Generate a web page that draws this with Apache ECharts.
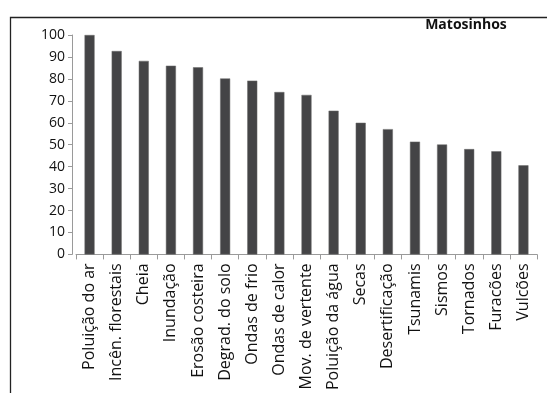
<!DOCTYPE html>
<html>
<head>
<meta charset="utf-8">
<script src="https://cdn.jsdelivr.net/npm/echarts@6/dist/echarts.min.js"></script>
<style>
  html, body { margin: 0; padding: 0; background: #fff; }
  #chart { width: 547px; height: 393px; }
</style>
</head>
<body>
<div id="chart"></div>
<script>
// Hazard categories, ordered from highest to lowest score
const categories = [
  'Poluição do ar', 'Incên. florestais', 'Cheia', 'Inundação', 'Erosão costeira',
  'Degrad. do solo', 'Ondas de frio', 'Ondas de calor', 'Mov. de vertente',
  'Poluição da água', 'Secas', 'Desertificação', 'Tsunamis', 'Sismos',
  'Tornados', 'Furacões', 'Vulcões'
];
// Score for each hazard
const scores = [100, 92.7, 88.2, 86, 85.3, 80.2, 79.2, 74, 72.7, 65.5, 60, 57.1, 51.4, 50.1, 48, 47, 40.6];
// Value-axis tick settings
const yMin = 0, yMax = 100, yStep = 10;
const titleText = 'Matosinhos';

const chart = echarts.init(document.getElementById('chart'), null, { renderer: 'canvas' });
const fontFamily = '"Open Sans", "DejaVu Sans", sans-serif';
const axisGray = '#9a9a9a';

chart.setOption({
  animation: false,
  backgroundColor: '#fff',
  title: {
    text: titleText,
    left: 461, top: 13, textAlign: 'center',
    textStyle: { fontFamily: fontFamily, fontSize: 14, fontWeight: 'bold', color: '#111' }
  },
  graphic: [{
    // outer frame, only its top and left edges fall inside the page
    type: 'rect', left: 8, top: 15, silent: true,
    shape: { width: 700, height: 600 },
    style: { fill: 'none', stroke: '#222', lineWidth: 1.3 }
  }],
  grid: { left: 76, right: 10, top: 35, bottom: 138, containLabel: false },
  xAxis: {
    type: 'category',
    data: categories,
    axisLine: { show: true, lineStyle: { color: axisGray, width: 1 } },
    axisTick: { show: true, alignWithLabel: false, length: 5, lineStyle: { color: axisGray } },
    axisLabel: {
      rotate: 90, interval: 0, margin: 9,
      fontFamily: fontFamily, fontSize: 16, color: '#111'
    }
  },
  yAxis: {
    type: 'value',
    min: yMin, max: yMax, interval: yStep,
    offset: 4,
    axisLine: { show: true, lineStyle: { color: axisGray, width: 1 } },
    axisTick: { show: true, length: 4, lineStyle: { color: axisGray } },
    splitLine: { show: false },
    axisLabel: { margin: 7, fontFamily: fontFamily, fontSize: 14, color: '#111' }
  },
  series: [{
    type: 'bar',
    data: scores,
    barWidth: '37%',
    itemStyle: { color: '#444446', borderColor: '#6a6a6a', borderWidth: 0.5 }
  }]
});
</script>
</body>
</html>
